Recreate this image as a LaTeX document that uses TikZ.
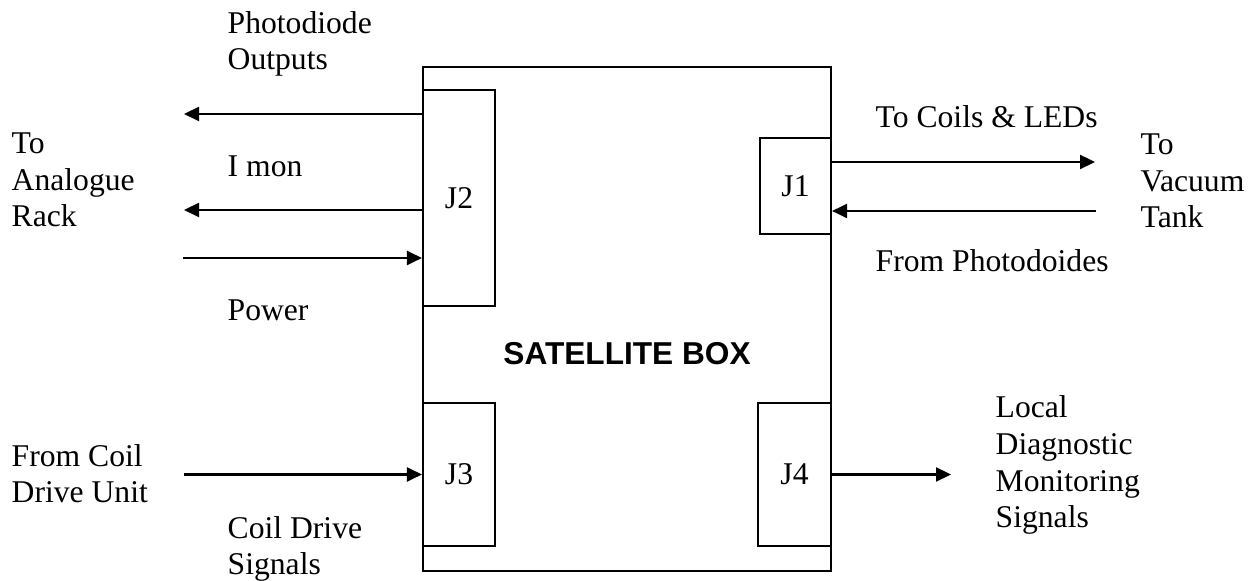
\documentclass[tikz,border=0pt]{standalone}
\usepackage{fontspec}
\setmainfont{Liberation Serif}
\newfontfamily\boxfont{Liberation Sans}
\usepackage{tikz}
\usetikzlibrary{arrows.meta,positioning}

\begin{document}
\begin{tikzpicture}[
  every node/.style={font=\fontsize{9}{10.5}\selectfont},
  box/.style={draw, line width=0.6pt, minimum width=4.08cm, minimum height=5.04cm, inner sep=0pt},
  conn/.style={draw, line width=0.6pt, fill=white, inner sep=0pt},
  lbl/.style={align=left, anchor=base west, inner sep=0pt},
  arr/.style={-{Triangle[length=1.5mm, width=1.4mm]}, line width=0.6pt},
]
\useasboundingbox (0,0) rectangle (12.57,5.81);

% Satellite box and its connectors
\node[box] (sat) at (6.27, 2.62) {};
\node[font=\boxfont\bfseries\fontsize{9}{10.5}\selectfont] (title) at (6.27, 2.27) {SATELLITE BOX};
\node[conn, minimum width=0.72cm, minimum height=2.16cm] (J2) at (4.59, 3.83) {J2};
\node[conn, minimum width=0.71cm, minimum height=0.96cm] (J1) at (7.955, 3.95) {J1};
\node[conn, minimum width=0.72cm, minimum height=1.43cm] (J3) at (4.59, 1.065) {J3};
\node[conn, minimum width=0.73cm, minimum height=1.43cm] (J4) at (7.945, 1.065) {J4};

% Free ends of the connectors
\coordinate (pdout) at (1.84, 4.67);
\coordinate (imon) at (1.84, 3.71);
\coordinate (pwr) at (1.83, 3.23);
\coordinate (coils) at (10.95, 4.19);
\coordinate (pdin) at (10.96, 3.70);
\coordinate (cdu) at (1.84, 1.065);
\coordinate (diag) at (9.51, 1.065);

% Connectors
\draw[arr] (J2.west |- pdout) -- (pdout);
\draw[arr] (J2.west |- imon) -- (imon);
\draw[arr] (pwr) -- (J2.west |- pwr);
\draw[arr] (J1.east |- coils) -- (coils);
\draw[arr] (pdin) -- (J1.east |- pdin);
\draw[arr] (cdu) -- (J3.west);
\draw[arr] (J4.east) -- (diag);

% Labels (base = baseline of the last line)
\node[lbl] (lblpd) at (2.27, 5.11) {Photodiode\\Outputs};
\node[lbl] (lblrack) at (0.11, 3.54) {To\\Analogue\\Rack};
\node[lbl] (lblimon) at (2.27, 4.04) {I mon};
\node[lbl] (lblpwr) at (2.27, 2.60) {Power};
\node[lbl] (lblcoils) at (8.75, 4.53) {To Coils \& LEDs};
\node[lbl] (lbltank) at (11.40, 3.53) {To\\Vacuum\\Tank};
\node[lbl] (lblpdin) at (8.75, 3.09) {From Photodoides};
\node[lbl] (lblcdu) at (0.11, 0.78) {From Coil\\Drive Unit};
\node[lbl] (lblcds) at (2.27, 0.06) {Coil Drive\\Signals};
\node[lbl] (lbldiag) at (9.95, 0.53) {Local\\Diagnostic\\Monitoring\\Signals};

\end{tikzpicture}
\end{document}
